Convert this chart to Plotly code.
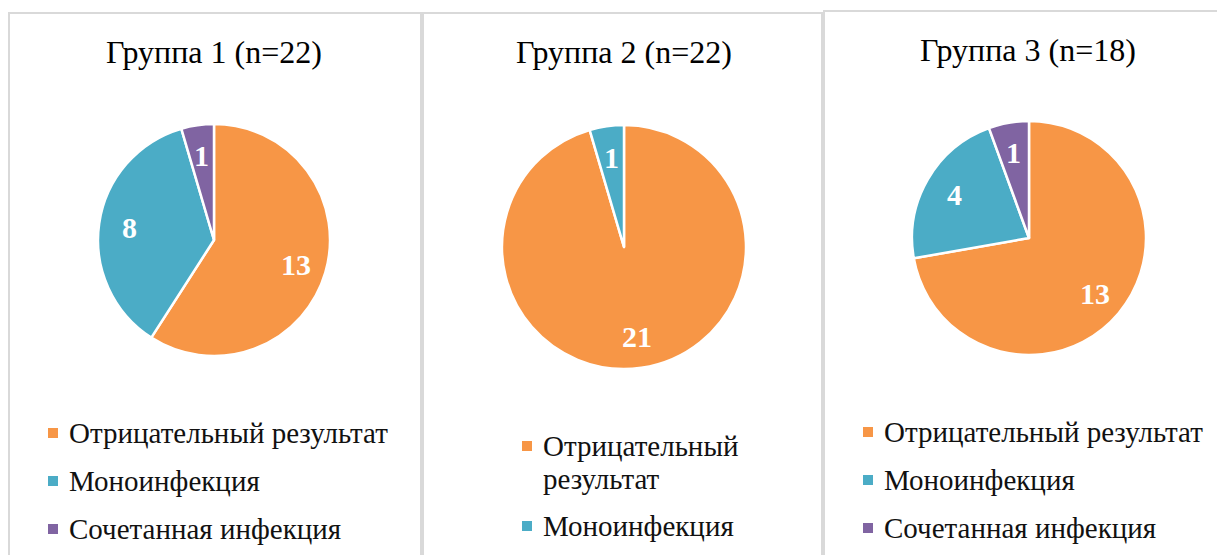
import math

import plotly.graph_objects as go

W, H = 1225, 555
OFF = 8  # page body margin around the plot div

# data
titles = ['Группа 1 (n=22)', 'Группа 2 (n=22)', 'Группа 3 (n=18)']
labels_1 = ['Отрицательный результат', 'Моноинфекция', 'Сочетанная инфекция']
values_1 = [13, 8, 1]
labels_2 = ['Отрицательный<br>результат', 'Моноинфекция']
values_2 = [21, 1]
labels_3 = ['Отрицательный результат', 'Моноинфекция', 'Сочетанная инфекция']
values_3 = [13, 4, 1]

colors = ['#F79646', '#4BACC6', '#8064A2']
serif = 'Liberation Serif, Times New Roman, serif'


def fx(x):
    return (x - OFF) / W


def fy(y):
    return 1 - (y - OFF) / H


# pixel layout of each panel: pie box, frame, title centre, legend rows
panels = [
    dict(labels=labels_1, values=values_1, title=titles[0],
         box=(98, 330, 124, 356), frame=(9, 421, 13), title_xy=(214, 52),
         leg_x=48, leg_rows=[433, 481, 529]),
    dict(labels=labels_2, values=values_2, title=titles[1],
         box=(502, 746, 125, 369), frame=(423, 822, 13), title_xy=(624, 52),
         leg_x=522, leg_rows=[446, 526]),
    dict(labels=labels_3, values=values_3, title=titles[2],
         box=(912, 1146, 121, 355), frame=(824, 1250, 11), title_xy=(1028, 50),
         leg_x=863, leg_rows=[432, 480, 528]),
]

fig = go.Figure()
shapes = []
annotations = []

for p in panels:
    x0, x1, y0, y1 = p['box']
    fig.add_trace(go.Pie(
        labels=p['labels'], values=p['values'],
        marker=dict(colors=colors[:len(p['values'])], line=dict(color='white', width=2.5)),
        sort=False, direction='clockwise', rotation=0,
        textinfo='none',
        domain=dict(x=[fx(x0), fx(x1)], y=[fy(y1), fy(y0)]),
        showlegend=False, hoverinfo='label+value',
    ))

    # value labels at the middle angle of each slice
    cx, cy, r = (x0 + x1) / 2, (y0 + y1) / 2, (x1 - x0) / 2
    total = sum(p['values'])
    acc = 0
    for v in p['values']:
        mid = (acc + v / 2) / total * 2 * math.pi
        acc += v
        lx = cx + 0.74 * r * math.sin(mid)
        ly = cy - 0.74 * r * math.cos(mid)
        annotations.append(dict(text=str(v), x=fx(lx), y=fy(ly), xref='paper', yref='paper',
                                showarrow=False, xanchor='center', yanchor='middle',
                                font=dict(family=serif, size=30, color='white', weight='bold')))

    fl, fr, ft = p['frame']
    shapes.append(dict(type='rect', xref='paper', yref='paper',
                       x0=fx(fl), x1=fx(fr), y0=-0.1, y1=fy(ft),
                       line=dict(color='#d9d9d9', width=2), layer='below'))

    tx, ty = p['title_xy']
    annotations.append(dict(text=p['title'], x=fx(tx), y=fy(ty), xref='paper', yref='paper',
                            showarrow=False, xanchor='center', yanchor='middle',
                            font=dict(family=serif, size=32, color='black')))

    # legend drawn by hand; wrapped entries get a tighter line spacing
    for i, (lab, row) in enumerate(zip(p['labels'], p['leg_rows'])):
        lx = p['leg_x']
        shapes.append(dict(type='rect', xref='paper', yref='paper',
                           x0=fx(lx), x1=fx(lx + 10), y0=fy(row + 5), y1=fy(row - 5),
                           fillcolor=colors[i], line=dict(width=0)))
        for k, line in enumerate(lab.split('<br>')):
            annotations.append(dict(text=line, x=fx(lx + 19), y=fy(row + k * 33),
                                    xref='paper', yref='paper',
                                    showarrow=False, xanchor='left', yanchor='middle', align='left',
                                    font=dict(family=serif, size=29, color='#111111')))

fig.update_layout(
    width=W, height=H,
    margin=dict(l=0, r=0, t=0, b=0),
    paper_bgcolor='white',
    shapes=shapes,
    annotations=annotations,
)

fig.write_html('out.html')
